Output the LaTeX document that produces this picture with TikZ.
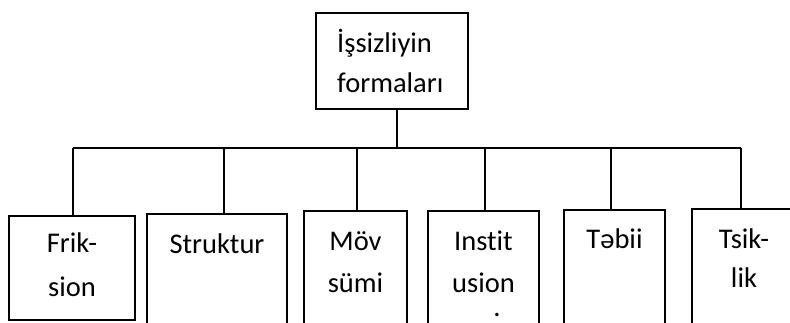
\documentclass[tikz,border=0pt]{standalone}
\usepackage{fontspec}
\setmainfont{Carlito}[Ligatures=NoCommon]
\newcommand{\lns}[3]{{\fontsize{28.5}{#1}\selectfont\begin{tabular}[t]{@{}#2@{}}#3\end{tabular}}}
\begin{document}
\begin{tikzpicture}[x=1pt,y=-1pt,
  box/.style={draw, line width=1.6pt, inner sep=0pt},
  conn/.style={line width=1.6pt},
  lbl/.style={inner sep=0pt, anchor=base}]
\useasboundingbox (0,0) rectangle (790,322);
\clip (0,0) rectangle (790,322);
% boxes
\node[box, minimum width=152pt, minimum height=96pt] (top) at (392,61) {};
\node[box, minimum width=126pt, minimum height=104pt] (b1) at (72,268) {};
\node[box, minimum width=140pt, minimum height=126pt] (b2) at (217,277) {};
\node[box, minimum width=103pt, minimum height=129pt] (b3) at (355.5,275.5) {};
\node[box, minimum width=111pt, minimum height=129pt] (b4) at (483.5,275.5) {};
\node[box, minimum width=101pt, minimum height=130pt] (b5) at (614.5,275) {};
\node[box, minimum width=104pt, minimum height=131pt] (b6) at (744,274.5) {};
% texts
\node[lbl, anchor=base west] (t0) at (337,52) {\lns{40}{l}{İşsizliyin\\formaları}};
\node[lbl] (t1) at (72,252) {\lns{44}{c}{Frik-\\sion}};
\node[lbl] (t2) at (217,253) {\lns{42}{c}{Struktur}};
\node[lbl] (t3) at (355.5,250) {\lns{42}{c}{Möv\\sümi}};
\node[lbl] (t4) at (483.5,250) {\lns{42}{c}{Instit\\usion}};
\node[lbl, text height=4pt, text depth=0pt] (t4b) at (497,316) {\fontsize{28.5}{42}\selectfont .};
\node[lbl] (t5) at (614.5,248) {\lns{42}{c}{Təbii}};
\node[lbl] (t6) at (744,248) {\lns{39}{c}{Tsik-\\lik}};
% connectors
\coordinate (hub) at (397,148);
\coordinate (d1) at (73,148);
\coordinate (d2) at (224,148);
\coordinate (d3) at (357,148);
\coordinate (d4) at (485,148);
\coordinate (d5) at (611,148);
\coordinate (d6) at (741,148);
\draw[conn] (hub |- top.south) -- (hub);
\draw[conn] (d1) -- (d6);
\foreach \i in {1,...,6}{
  \draw[conn] (d\i) -- (d\i |- b\i.north);
}
\end{tikzpicture}
\end{document}
